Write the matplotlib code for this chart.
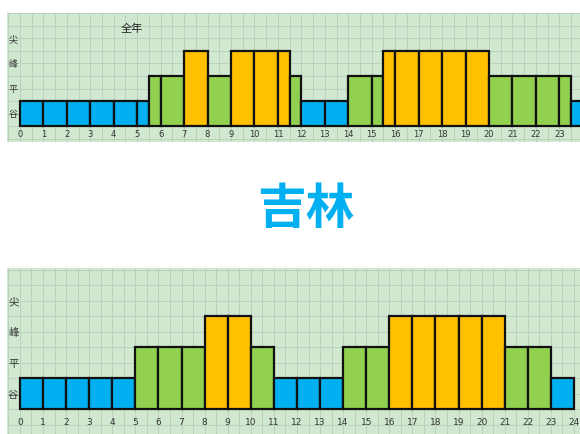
import matplotlib.pyplot as plt
import numpy as np

plt.rcParams['font.family'] = ['Noto Sans CJK SC', 'DejaVu Sans']

# level: 1 = 谷, 2 = 平, 3 = 峰 (yellow)
# top panel (全年): segment edges and levels
top_edges = [0, 1, 2, 3, 4, 5, 5.5, 6, 7, 8, 9, 10, 11, 11.5, 12, 13, 14,
             15, 15.5, 16, 17, 18, 19, 20, 21, 22, 23, 23.5, 24]
top_levels = [1, 1, 1, 1, 1, 1, 2, 2, 3, 2, 3, 3, 3, 2, 1, 1, 2, 2,
              3, 3, 3, 3, 3, 2, 2, 2, 2, 1]

# bottom panel: one bar per hour
bottom_levels = [1, 1, 1, 1, 1, 2, 2, 2, 3, 3, 2, 1, 1, 1, 2, 2,
                 3, 3, 3, 3, 3, 2, 2, 1]

level_names = ['谷', '平', '峰', '尖']
level_colors = {1: '#00b0f0', 2: '#92d050', 3: '#ffc000'}
hours = list(range(25))

BG = '#d0e8d0'
GRID = '#b8cdb9'


def draw_panel(ax, edges, levels, xlim, ylim, fs_y, fs_x):
    ax.set_facecolor(BG)
    ax.set_xlim(*xlim)
    ax.set_ylim(*ylim)
    for x in np.arange(-0.5, 25, 0.5):
        ax.axvline(x, color=GRID, lw=0.6, zorder=0)
    for y in np.arange(-1, 5, 0.5):
        ax.axhline(y, color=GRID, lw=0.6, zorder=0)
    lefts = edges[:-1]
    widths = np.diff(edges)
    ax.bar(lefts, levels, width=widths, align='edge',
           color=[level_colors[l] for l in levels],
           edgecolor='#111111', linewidth=1.6, zorder=3)
    for i, name in enumerate(level_names):
        ax.text(xlim[0] + 0.27, i + 0.45, name, fontsize=fs_y,
                ha='center', va='center', color='#333333')
    for h in hours:
        # top chart is cropped at the right, so its 24 is not shown
        if h + 0.2 > xlim[1]:
            continue
        ax.text(h, ylim[0] * 0.55, str(h), fontsize=fs_x, ha='center',
                va='center', color='#333333', family='DejaVu Sans')
    ax.set_xticks([])
    ax.set_yticks([])
    for s in ax.spines.values():
        s.set_visible(False)


fig = plt.figure(figsize=(5.8, 4.34), dpi=100)

ax1 = fig.add_axes([7 / 580, (434 - 142) / 434, 573 / 580, 129 / 434])
draw_panel(ax1, top_edges, top_levels, (-0.55, 23.88), (-0.64, 4.52), 6.5, 6)
ax1.text(4.75, 3.9, '全年', fontsize=8, ha='center', va='center',
         color='#222222')

ax2 = fig.add_axes([7 / 580, 0, 573 / 580, 166 / 434])
draw_panel(ax2, list(range(25)), bottom_levels, (-0.56, 24.26), (-0.8, 4.55),
           7.5, 6.5)

fig.text(306 / 580, 1 - 209 / 434, '吉林', fontsize=35, fontweight='bold',
         color='#00b0f0', ha='center', va='center')

fig.savefig('out.png', dpi=100)
